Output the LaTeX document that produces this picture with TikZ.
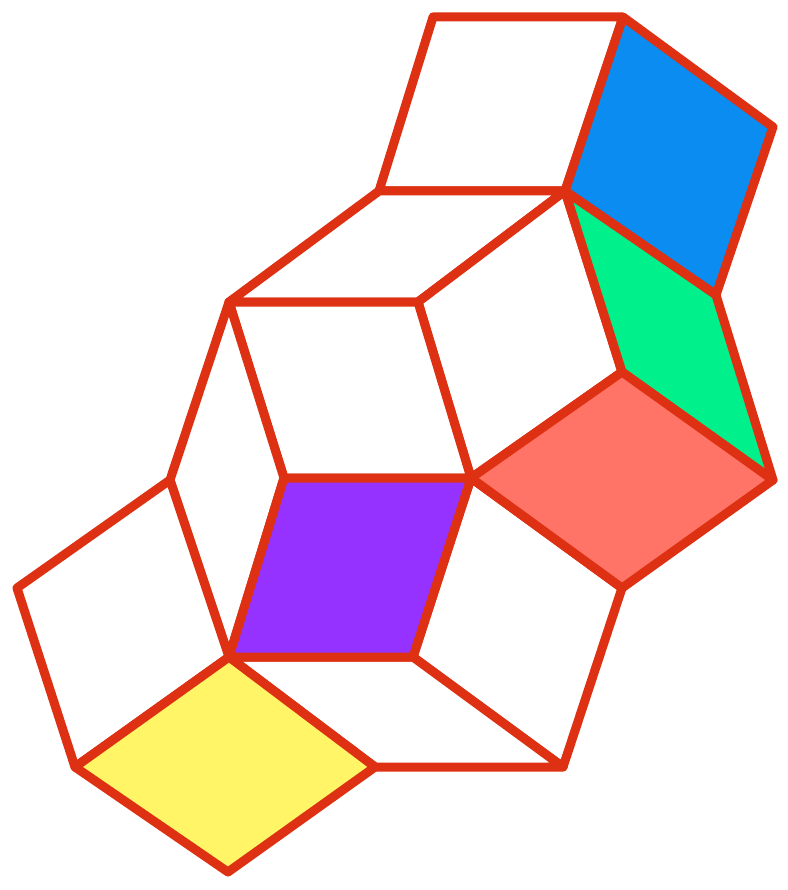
\documentclass[tikz,border=0pt]{standalone}
\begin{document}
\begin{tikzpicture}[x=1pt,y=-1pt,
  edge/.style={draw=redline,line width=9pt,line join=round,line cap=round},
  tile/.style={edge,fill=#1}]
\definecolor{redline}{RGB}{222,48,18}
\definecolor{tblue}{RGB}{10,140,240}
\definecolor{tgreen}{RGB}{0,240,140}
\definecolor{tsalmon}{RGB}{255,116,102}
\definecolor{tpurple}{RGB}{150,50,255}
\definecolor{tyellow}{RGB}{255,245,102}
\useasboundingbox (0,0) rectangle (787,890);
\coordinate (v1) at (433,17);
\coordinate (v2) at (623,17);
\coordinate (v3) at (773,127);
\coordinate (v4) at (716,295);
\coordinate (v5) at (565,191);
\coordinate (v6) at (379,191);
\coordinate (v7) at (229,302);
\coordinate (v8) at (418,302);
\coordinate (v9) at (170,480);
\coordinate (v10) at (284,478);
\coordinate (v11) at (471,478);
\coordinate (v12) at (622,372);
\coordinate (v13) at (773,480);
\coordinate (v14) at (622,588);
\coordinate (v15) at (413,657);
\coordinate (v16) at (229,657);
\coordinate (v17) at (17,588);
\coordinate (v18) at (75,767);
\coordinate (v19) at (228,872);
\coordinate (v20) at (375,767);
\coordinate (v21) at (563,767);
% white tiles
\path[tile=white] (v1) -- (v2) -- (v5) -- (v6) -- cycle;
\path[tile=white] (v6) -- (v5) -- (v8) -- (v7) -- cycle;
\path[tile=white] (v5) -- (v12) -- (v11) -- (v8) -- cycle;
\path[tile=white] (v7) -- (v8) -- (v11) -- (v10) -- cycle;
\path[tile=white] (v7) -- (v10) -- (v16) -- (v9) -- cycle;
\path[tile=white] (v11) -- (v14) -- (v21) -- (v15) -- cycle;
\path[tile=white] (v16) -- (v15) -- (v21) -- (v20) -- cycle;
\path[tile=white] (v9) -- (v16) -- (v18) -- (v17) -- cycle;
% coloured tiles
\path[tile=tblue] (v2) -- (v3) -- (v4) -- (v5) -- cycle;
\path[tile=tgreen] (v5) -- (v4) -- (v13) -- (v12) -- cycle;
\path[tile=tsalmon] (v11) -- (v12) -- (v13) -- (v14) -- cycle;
\path[tile=tpurple] (v10) -- (v11) -- (v15) -- (v16) -- cycle;
\path[tile=tyellow] (v16) -- (v20) -- (v19) -- (v18) -- cycle;
\end{tikzpicture}
\end{document}
